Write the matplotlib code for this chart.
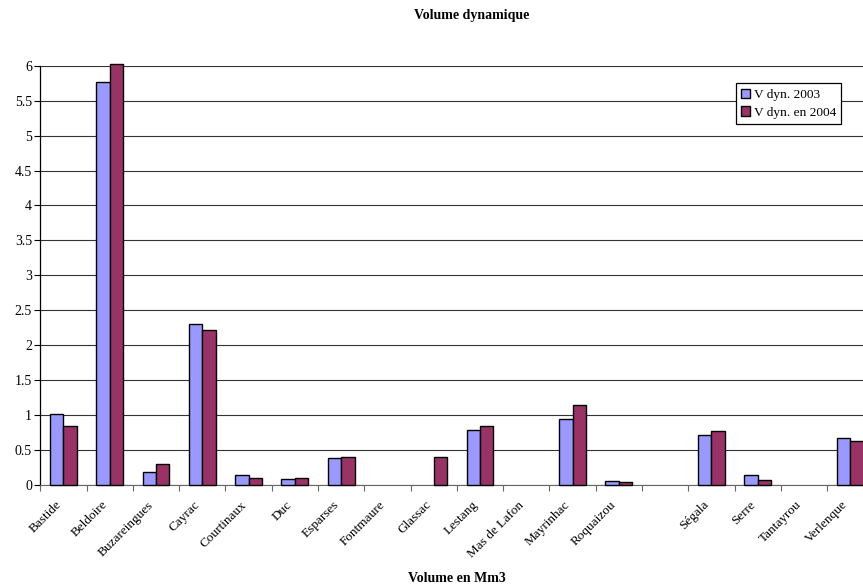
import numpy as np
import matplotlib
matplotlib.use("Agg")
import matplotlib.pyplot as plt

# Data (Mm3); nan = no bar
sites = ["Bastide", "Beldoire", "Buzareingues", "Cayrac", "Courtinaux", "Duc",
         "Esparses", "Fontmaure", "Glassac", "Lestang", "Mas de Lafon",
         "Mayrinhac", "Roquaizou", "", "Ségala", "Serre", "Tantayrou", "Verlenque"]
v_2003 = [1.01, 5.76, 0.18, 2.31, 0.14, 0.09, 0.38, np.nan, np.nan, 0.78,
          np.nan, 0.95, 0.06, np.nan, 0.72, 0.15, np.nan, 0.67]
v_2004 = [0.84, 6.03, 0.30, 2.22, 0.10, 0.10, 0.40, np.nan, 0.40, 0.85,
          np.nan, 1.15, 0.04, np.nan, 0.77, 0.07, np.nan, 0.63]
y_ticks = [0, 0.5, 1, 1.5, 2, 2.5, 3, 3.5, 4, 4.5, 5, 5.5, 6]
y_tick_labels = ["0", "0.5", "1", "1.5", "2", "2.5", "3", "3.5", "4", "4.5",
                 "5", "5.5", "6"]

plt.rcParams["font.family"] = ["Liberation Serif", "DejaVu Serif"]

fig = plt.figure(figsize=(8.63, 5.85), dpi=100)
# plot area runs slightly past the right edge of the picture, like the original
ax = fig.add_axes([40.3 / 863, 1 - 485 / 585, 833.1 / 863, 419.3 / 585])

x = np.arange(len(sites))
w = 0.29
ax.bar(x - w / 2, v_2003, w, color="#9999FF", edgecolor="black", linewidth=1,
       label="V dyn. 2003", zorder=3, clip_on=False)
ax.bar(x + w / 2, v_2004, w, color="#993366", edgecolor="black", linewidth=1,
       label="V dyn. en 2004", zorder=3, clip_on=False)

ax.set_xlim(-0.5, len(sites) - 0.5)
ax.set_ylim(0, 6)
ax.set_yticks(y_ticks)
ax.set_yticklabels(y_tick_labels, fontsize=10)
ax.yaxis.grid(True, color="#333333", linewidth=0.8, zorder=0)
ax.tick_params(axis="y", length=4, width=0.8, pad=2)

# category labels at centres, tick marks at boundaries
ax.set_xticks(x)
ax.set_xticklabels(sites, rotation=45, ha="right", fontsize=9.5)
ax.tick_params(axis="x", which="major", length=0, pad=10)
ax.set_xticks(np.arange(len(sites) + 1) - 0.5, minor=True)
ax.tick_params(axis="x", which="minor", length=4, width=0.8, color="#666666")

for side in ["top", "right"]:
    ax.spines[side].set_visible(False)
ax.spines["left"].set_linewidth(0.9)
ax.spines["bottom"].set_color("#666666")

fig.text(472 / 863, 1 - 15 / 585, "Volume dynamique", ha="center", va="center",
         fontsize=10, fontweight="bold")
fig.text(457 / 863, 1 - 578 / 585, "Volume en Mm3", ha="center", va="center",
         fontsize=10, fontweight="bold")

leg = ax.legend(loc="upper left", bbox_to_anchor=(695.4 / 833.1, 1 - 17.6 / 419.3),
                fontsize=9.6, frameon=True, fancybox=False, edgecolor="black",
                framealpha=1, handlelength=0.7, handleheight=0.7,
                handletextpad=0.25, borderpad=0.4, labelspacing=0.4,
                borderaxespad=0)
leg.get_frame().set_linewidth(0.9)

fig.savefig("out.png", dpi=100)
